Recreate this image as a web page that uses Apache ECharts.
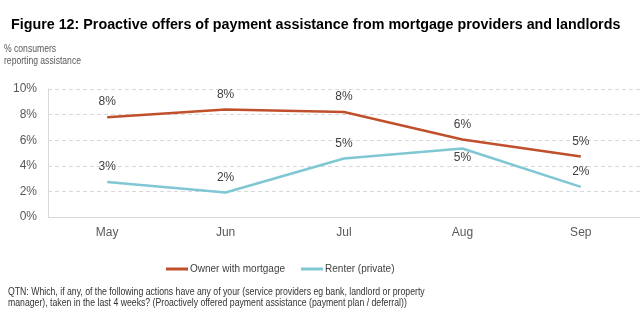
<!DOCTYPE html>
<html><head><meta charset="utf-8">
<script src="https://cdn.jsdelivr.net/npm/echarts@6/dist/echarts.min.js"></script>
<style>html,body{margin:0;padding:0;background:#fff}#c{width:640px;height:333px}</style>
</head><body><div id="c"></div>
<script>
const categories = ['May', 'Jun', 'Jul', 'Aug', 'Sep'];
const ownerMortgage = [7.8, 8.4, 8.2, 6.05, 4.73];
const renterPrivate = [2.74, 1.92, 4.57, 5.35, 2.35];
const seriesNames = ['Owner with mortgage', 'Renter (private)'];
const yTicks = [0, 2, 4, 6, 8, 10];

const FONT = '"Liberation Sans", Arial, sans-serif';
const chart = echarts.init(document.getElementById('c'), null, {renderer: 'canvas'});
const lbl = v => Math.round(v) + '%';
function mk(arr, belowIdx) {
  return arr.map((v, i) => i === belowIdx
    ? {value: v, label: {position: 'bottom', distance: 3}}
    : v);
}
const labelCfg = {show: true, position: 'top', distance: 9, formatter: p => lbl(p.value), color: '#404040', fontSize: 12, fontFamily: FONT};
chart.setOption({
  animation: false,
  textStyle: {fontFamily: FONT},
  title: {
    text: 'Figure 12: Proactive offers of payment assistance from mortgage providers and landlords',
    left: 6, top: 13,
    textStyle: {fontSize: 14.3, fontWeight: 'bold', color: '#000', fontFamily: FONT}
  },
  graphic: [
    {type: 'text', x: 4, y: 43, scaleX: 0.86, style: {text: '% consumers\nreporting assistance', fontSize: 10, lineHeight: 12, fill: '#595959', fontFamily: FONT, verticalAlign: 'top'}},
    {type: 'text', x: 8, y: 287, scaleX: 0.87, style: {text: 'QTN: Which, if any, of the following actions have any of your (service providers eg bank, landlord or property\nmanager), taken in the last 4 weeks? (Proactively offered payment assistance (payment plan / deferral))', fontSize: 10, lineHeight: 11, fill: '#333', fontFamily: FONT, verticalAlign: 'top'}}
  ],
  legend: {
    data: seriesNames, top: 259, left: 161, itemGap: 16,
    itemWidth: 22, itemHeight: 3, icon: 'rect',
    textStyle: {fontSize: 10, color: '#404040', fontFamily: FONT, padding: [0, 0, 0, -3]}
  },
  grid: {left: 48, right: 0, top: 89, bottom: 116},
  xAxis: {
    type: 'category', data: categories, boundaryGap: true,
    axisLine: {lineStyle: {color: '#d9d9d9'}}, axisTick: {show: false},
    axisLabel: {color: '#595959', fontSize: 12, margin: 10, fontFamily: FONT}
  },
  yAxis: {
    type: 'value', min: yTicks[0], max: yTicks[yTicks.length - 1], interval: 2,
    axisLine: {show: true, lineStyle: {color: '#d9d9d9'}}, axisTick: {show: false},
    axisLabel: {color: '#595959', fontSize: 12, margin: 11, formatter: v => v + '%', fontFamily: FONT},
    splitLine: {lineStyle: {color: '#d9d9d9', type: [4, 3]}}
  },
  series: [
    {name: seriesNames[0], type: 'line', data: ownerMortgage, showSymbol: true, symbol: 'circle', symbolSize: 0.1,
     lineStyle: {width: 2.5, color: '#C0502C'}, itemStyle: {color: '#C0502C'}, label: labelCfg},
    {name: seriesNames[1], type: 'line', data: mk(renterPrivate, 3), showSymbol: true, symbol: 'circle', symbolSize: 0.1,
     lineStyle: {width: 2.5, color: '#7FC7D3'}, itemStyle: {color: '#7FC7D3'}, label: labelCfg}
  ]
});
</script></body></html>
